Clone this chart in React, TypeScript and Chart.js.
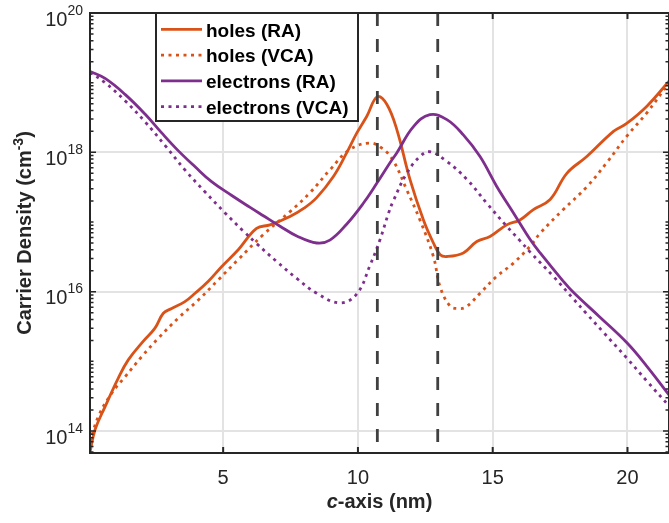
import { useEffect, useRef } from "react";
import { Chart, registerables } from "chart.js";

Chart.register(...registerables);

// ---------------- data ----------------
const xTicks = [5, 10, 15, 20];
const yLabelValues = [1e14, 1e16, 1e18, 1e20];
const yLabelExponents = ["14", "16", "18", "20"];
const xMin = 0.06;
const xMax = 21.54;
const yMin = 4.84e13;
const yMax = 1e20;
const interfacePositions = [10.72, 12.96];

const seriesLabels = ["holes (RA)", "holes (VCA)", "electrons (RA)", "electrons (VCA)"];

const holesRA_x = [0.06, 0.25, 0.62, 1.11, 1.48, 2.04, 2.47, 2.78, 3.09, 3.58, 3.96, 4.45, 4.95, 5.56, 6.24, 6.74, 7.48, 8.0, 8.47, 9.09, 9.58, 9.96, 10.33, 10.72, 11.07, 11.44, 11.93, 12.43, 12.8, 13.05, 13.3, 13.91, 14.41, 14.9, 15.52, 16.01, 16.51, 17.13, 17.75, 18.49, 19.48, 19.97, 20.72, 21.54];
const holesRA = [5.0e13, 1.05e14, 2.24e14, 5.75e14, 1.05e15, 1.95e15, 3.0e15, 4.9e15, 5.75e15, 7.2e15, 9.5e15, 1.41e16, 2.3e16, 4.0e16, 8.1e16, 9.1e16, 1.2e17, 1.58e17, 2.24e17, 4.5e17, 9.8e17, 1.9e18, 3.3e18, 6.3e18, 4.9e18, 2.14e18, 4.1e17, 1.07e17, 5.0e16, 3.4e16, 3.2e16, 3.6e16, 5.25e16, 6.2e16, 9.1e16, 1.07e17, 1.51e17, 2.1e17, 5.0e17, 8.7e17, 2.0e18, 2.6e18, 4.6e18, 1.05e19];

const holesVCA_x = [0.06, 0.37, 0.86, 1.36, 1.98, 2.59, 3.34, 4.08, 4.82, 5.56, 6.49, 7.48, 8.22, 8.96, 9.7, 10.45, 10.9, 11.31, 11.81, 12.3, 12.8, 13.05, 13.42, 13.7, 14.0, 14.53, 15.15, 15.77, 16.39, 16.76, 17.62, 18.49, 19.23, 19.97, 20.72, 21.54];
const holesVCA = [7.0e13, 1.62e14, 3.47e14, 6.0e14, 1.17e15, 2.14e15, 4.2e15, 7.6e15, 1.48e16, 2.9e16, 6.6e16, 1.41e17, 2.63e17, 5.6e17, 1.1e18, 1.36e18, 1.14e18, 7.6e17, 2.9e17, 1.07e17, 3.2e16, 1.17e16, 6.2e15, 5.75e15, 6.0e15, 9.5e15, 1.66e16, 2.57e16, 4.5e16, 6.9e16, 1.51e17, 3.2e17, 7.1e17, 1.7e18, 3.7e18, 1.0e19];

const electronsRA_x = [0.06, 0.62, 1.36, 2.1, 2.72, 3.34, 3.96, 4.57, 5.32, 6.0, 6.49, 7.11, 7.73, 8.47, 8.96, 9.58, 10.2, 10.7, 11.19, 11.44, 12.06, 12.67, 13.3, 13.91, 14.53, 15.15, 15.77, 16.39, 16.76, 17.62, 17.99, 18.98, 19.97, 20.72, 21.54];
const electronsRA = [1.45e19, 1.15e19, 6.8e18, 3.55e18, 1.9e18, 1.05e18, 6.2e17, 3.8e17, 2.4e17, 1.62e17, 1.23e17, 8.7e16, 6.3e16, 5.0e16, 5.5e16, 9.3e16, 1.86e17, 3.6e17, 7.1e17, 9.8e17, 2.34e18, 3.47e18, 2.95e18, 1.78e18, 8.7e17, 3.24e17, 1.35e17, 5.6e16, 3.6e16, 1.41e16, 9.8e15, 4.3e15, 1.86e15, 8.5e14, 3.3e14];

const electronsVCA_x = [0.06, 0.62, 1.36, 2.1, 2.84, 3.58, 4.33, 5.07, 5.75, 6.24, 6.99, 7.73, 8.47, 9.34, 9.96, 10.45, 10.82, 11.13, 11.31, 11.81, 12.3, 12.67, 13.3, 14.04, 14.78, 15.52, 16.01, 16.39, 17.25, 17.99, 18.49, 19.1, 19.97, 20.72, 21.54];
const electronsVCA = [1.41e19, 1.0e19, 5.5e18, 2.75e18, 1.26e18, 5.6e17, 2.7e17, 1.35e17, 7.4e16, 4.9e16, 2.7e16, 1.55e16, 9.5e15, 6.9e15, 9.3e15, 2.4e16, 5.6e16, 1.32e17, 2.0e17, 5.0e17, 8.7e17, 1.02e18, 7.4e17, 4.1e17, 1.86e17, 8.7e16, 5.4e16, 3.7e16, 1.66e16, 7.9e15, 4.8e15, 2.63e15, 1.12e15, 5.2e14, 2.3e14];

// ---------------- styles ----------------
const FONT = '"Liberation Sans", Arial, Helvetica, sans-serif';
const AXIS = "#262626";
const ORANGE = "#D95319";
const PURPLE = "#7E2F8E";
const DOT = [3, 4.5];
const LW = 2.8;

const seriesStyles = [
  { color: ORANGE, dash: [] as number[] },
  { color: ORANGE, dash: DOT },
  { color: PURPLE, dash: [] as number[] },
  { color: PURPLE, dash: DOT },
];

const decorPlugin = {
  id: "decor",
  afterDatasetsDraw(chart: any) {
    const { ctx, chartArea: a, scales } = chart;
    const xs = scales.x;
    const ys = scales.y;
    ctx.save();

    // axes box
    ctx.strokeStyle = AXIS;
    ctx.lineWidth = 2;
    ctx.strokeRect(a.left, a.top, a.right - a.left, a.bottom - a.top);

    // x ticks (inward, bottom and top)
    ctx.lineWidth = 2;
    ctx.beginPath();
    for (const t of xTicks) {
      const px = xs.getPixelForValue(t);
      ctx.moveTo(px, a.bottom);
      ctx.lineTo(px, a.bottom - 6);
      ctx.moveTo(px, a.top);
      ctx.lineTo(px, a.top + 6);
    }
    ctx.stroke();

    // y ticks (major at labels, minor elsewhere), left and right
    ctx.lineWidth = 1.5;
    ctx.beginPath();
    for (let n = 13; n <= 19; n++) {
      for (let k = 1; k <= 9; k++) {
        const v = k * Math.pow(10, n);
        if (v < yMin || v > yMax) continue;
        const py = ys.getPixelForValue(v);
        const major = yLabelValues.some((m) => Math.abs(m - v) / m < 1e-9);
        const len = major ? 6 : 3.5;
        ctx.moveTo(a.left, py);
        ctx.lineTo(a.left + len, py);
        ctx.moveTo(a.right, py);
        ctx.lineTo(a.right - len, py);
      }
    }
    ctx.stroke();

    // x tick labels
    ctx.fillStyle = AXIS;
    ctx.font = `20px ${FONT}`;
    ctx.textAlign = "center";
    ctx.textBaseline = "alphabetic";
    for (const t of xTicks) {
      ctx.fillText(String(t), xs.getPixelForValue(t), 484);
    }

    // y tick labels 10^n
    ctx.textAlign = "left";
    yLabelValues.forEach((v, i) => {
      const py = ys.getPixelForValue(v);
      ctx.font = `20px ${FONT}`;
      const w1 = ctx.measureText("10").width;
      ctx.font = `14px ${FONT}`;
      const w2 = ctx.measureText(yLabelExponents[i]).width;
      const right = 83;
      ctx.font = `20px ${FONT}`;
      ctx.fillText("10", right - w2 - w1, py + 12.5);
      ctx.font = `14px ${FONT}`;
      ctx.fillText(yLabelExponents[i], right - w2, py + 1.5);
    });

    // x-axis title: c-axis (nm)
    {
      const italic = `italic bold 20px ${FONT}`;
      const bold = `bold 20px ${FONT}`;
      ctx.font = italic;
      const wc = ctx.measureText("c").width;
      ctx.font = bold;
      const wr = ctx.measureText("-axis (nm)").width;
      const cx = (a.left + a.right) / 2;
      const x0 = cx - (wc + wr) / 2;
      ctx.fillStyle = AXIS;
      ctx.font = italic;
      ctx.fillText("c", x0, 508);
      ctx.font = bold;
      ctx.fillText("-axis (nm)", x0 + wc, 508);
    }

    // y-axis title: Carrier Density (cm^-3)
    {
      const bold = `bold 20px ${FONT}`;
      const sup = `bold 14px ${FONT}`;
      ctx.font = bold;
      const wA = ctx.measureText("Carrier Density (cm").width;
      const wC = ctx.measureText(")").width;
      ctx.font = sup;
      const wB = ctx.measureText("-3").width;
      const total = wA + wB + wC;
      ctx.save();
      ctx.translate(31, (a.top + a.bottom) / 2);
      ctx.rotate(-Math.PI / 2);
      let x = -total / 2;
      ctx.fillStyle = AXIS;
      ctx.font = bold;
      ctx.fillText("Carrier Density (cm", x, 0);
      x += wA;
      ctx.font = sup;
      ctx.fillText("-3", x, -8);
      x += wB;
      ctx.font = bold;
      ctx.fillText(")", x, 0);
      ctx.restore();
    }

    // legend
    {
      const L = 156, T = a.top, R = 358, B = 121;
      ctx.fillStyle = "#ffffff";
      ctx.fillRect(L, T, R - L, B - T);
      ctx.strokeStyle = AXIS;
      ctx.lineWidth = 2;
      ctx.strokeRect(L, T, R - L, B - T);
      const rows = [29.3, 55.1, 80.9, 106.7];
      ctx.font = `bold 19px ${FONT}`;
      ctx.textAlign = "left";
      ctx.textBaseline = "alphabetic";
      seriesLabels.forEach((lab, i) => {
        const y = rows[i];
        const st = seriesStyles[i];
        ctx.strokeStyle = st.color;
        ctx.lineWidth = LW;
        ctx.setLineDash(st.dash);
        ctx.beginPath();
        ctx.moveTo(161, y);
        ctx.lineTo(202, y);
        ctx.stroke();
        ctx.setLineDash([]);
        ctx.fillStyle = "#000000";
        ctx.fillText(lab, 206, y + 7.3);
      });
    }

    ctx.restore();
  },
};

export default function App() {
  const ref = useRef<HTMLCanvasElement>(null);

  useEffect(() => {
    const canvas = ref.current;
    if (!canvas) return;
    const mk = (xs: number[], ys: number[]) => xs.map((x, i) => ({ x, y: ys[i] }));
    const seriesData = [
      mk(holesRA_x, holesRA),
      mk(holesVCA_x, holesVCA),
      mk(electronsRA_x, electronsRA),
      mk(electronsVCA_x, electronsVCA),
    ];
    const orders = [2, 2, 1, 1];
    const datasets: any[] = seriesData.map((d, i) => ({
      label: seriesLabels[i],
      data: d,
      borderColor: seriesStyles[i].color,
      backgroundColor: seriesStyles[i].color,
      borderWidth: LW,
      borderDash: seriesStyles[i].dash,
      borderCapStyle: "butt",
      tension: 0.4,
      pointRadius: 0,
      fill: false,
      order: orders[i],
    }));
    interfacePositions.forEach((xv) => {
      datasets.push({
        label: "",
        data: [
          { x: xv, y: yMax },
          { x: xv, y: yMin },
        ],
        borderColor: "#404040",
        borderWidth: 2.8,
        borderDash: [13, 13],
        tension: 0,
        pointRadius: 0,
        fill: false,
        order: 0,
      });
    });

    const chart = new Chart(canvas, {
      type: "line",
      data: { datasets },
      options: {
        responsive: false,
        animation: false,
        devicePixelRatio: 1,
        layout: { padding: { top: 13, left: 0, right: 0, bottom: 0 } },
        plugins: { legend: { display: false }, tooltip: { enabled: false } },
        scales: {
          x: {
            type: "linear",
            min: xMin,
            max: xMax,
            afterBuildTicks: (s: any) => {
              s.ticks = xTicks.map((v) => ({ value: v }));
            },
            afterFit: (s: any) => {
              s.height = 70;
            },
            grid: { color: "#e3e3e3", lineWidth: 2, drawTicks: false },
            border: { display: false },
            ticks: { display: false },
          },
          y: {
            type: "logarithmic",
            min: yMin,
            max: yMax,
            afterBuildTicks: (s: any) => {
              s.ticks = yLabelValues.map((v) => ({ value: v }));
            },
            afterFit: (s: any) => {
              s.width = 90;
            },
            grid: { color: "#e3e3e3", lineWidth: 2, drawTicks: false },
            border: { display: false },
            ticks: { display: false },
          },
        },
      } as any,
      plugins: [decorPlugin],
    });
    return () => chart.destroy();
  }, []);

  return (
    <div style={{ position: "fixed", left: 0, top: 0, width: 669, height: 523, background: "#ffffff" }}>
      <canvas ref={ref} width={669} height={523} style={{ display: "block" }} />
    </div>
  );
}
